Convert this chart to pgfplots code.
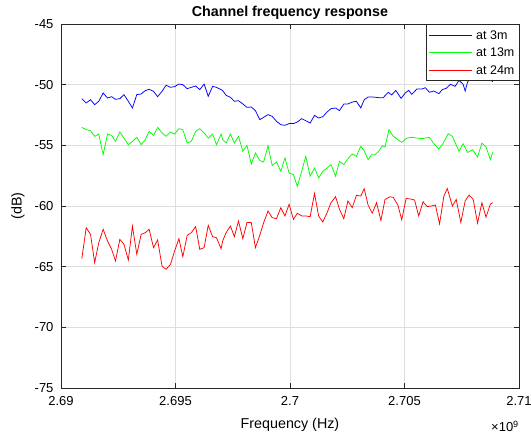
\documentclass[border=0pt]{standalone}
\usepackage{pgfplots}
\usepackage{pgfplotstable}
\pgfplotsset{compat=1.18}
\usepackage{fontspec}
\setmainfont{Liberation Sans}

\definecolor{axgray}{RGB}{38,38,38}
\definecolor{gridgray}{RGB}{222,222,222}

% frequency in MHz, response in dB
\pgfplotstableread{
f y
2690.91 -51.15
2691.10 -51.51
2691.29 -51.24
2691.47 -51.65
2691.65 -51.37
2691.84 -50.69
2692.03 -51.10
2692.21 -50.99
2692.38 -51.21
2692.57 -51.15
2692.75 -50.82
2692.94 -51.37
2693.12 -51.92
2693.31 -50.82
2693.50 -50.77
2693.68 -50.49
2693.85 -50.38
2694.04 -50.55
2694.22 -50.99
2694.41 -50.55
2694.59 -50.05
2694.78 -50.22
2694.96 -50.16
2695.15 -49.95
2695.32 -50.00
2695.51 -50.33
2695.69 -50.22
2695.88 -50.11
2696.06 -50.41
2696.25 -49.95
2696.43 -50.96
2696.62 -50.14
2696.79 -50.22
2696.99 -50.41
2697.06 -50.49
2697.21 -50.88
2697.40 -51.04
2697.57 -51.37
2697.75 -51.32
2697.94 -51.59
2698.12 -51.87
2698.31 -51.84
2698.49 -52.14
2698.68 -52.88
2698.85 -52.69
2699.04 -52.47
2699.22 -52.61
2699.41 -53.02
2699.60 -53.30
2699.78 -53.35
2699.96 -53.21
2700.15 -53.21
2700.32 -53.08
2700.51 -52.80
2700.69 -52.97
2700.88 -53.16
2701.07 -52.53
2701.25 -52.75
2701.43 -52.64
2701.62 -52.25
2701.79 -51.98
2701.99 -51.92
2702.16 -52.14
2702.35 -51.59
2702.53 -51.59
2702.72 -51.43
2702.90 -51.37
2703.09 -51.92
2703.24 -51.24
2703.41 -51.02
2703.63 -51.02
2703.88 -51.07
2704.07 -51.07
2704.29 -50.63
2704.44 -50.85
2704.62 -50.47
2704.85 -51.13
2705.03 -50.69
2705.18 -50.47
2705.32 -50.80
2705.54 -50.36
2705.76 -50.36
2705.91 -50.25
2706.09 -50.63
2706.28 -50.52
2706.50 -50.74
2706.65 -50.41
2706.82 -50.30
2707.01 -49.97
2707.21 -50.14
2707.38 -49.64
2707.56 -49.97
2707.65 -50.52
2707.75 -49.81
2707.90 -49.37
2708.09 -49.59
2708.26 -49.37
2708.44 -49.64
2708.63 -49.42
2708.85 -49.75
}\threem

\pgfplotstableread{
f y
2690.91 -53.52
2691.10 -53.71
2691.29 -53.79
2691.47 -54.26
2691.65 -54.07
2691.84 -55.77
2692.03 -54.07
2692.21 -54.18
2692.38 -54.67
2692.57 -53.90
2692.75 -54.40
2692.94 -54.95
2693.12 -54.67
2693.31 -54.34
2693.50 -54.95
2693.68 -54.53
2693.85 -53.85
2694.04 -54.18
2694.22 -53.52
2694.41 -53.98
2694.59 -54.26
2694.78 -53.90
2694.96 -54.07
2695.15 -53.63
2695.32 -53.71
2695.51 -54.81
2695.69 -54.67
2695.88 -53.85
2696.06 -53.63
2696.25 -53.98
2696.43 -54.40
2696.62 -54.07
2696.79 -54.95
2696.99 -54.07
2697.06 -54.53
2697.21 -54.81
2697.40 -54.07
2697.57 -54.81
2697.75 -54.26
2697.94 -55.49
2698.12 -55.00
2698.31 -56.54
2698.49 -55.63
2698.68 -56.26
2698.85 -56.37
2699.04 -55.03
2699.22 -56.65
2699.41 -56.37
2699.60 -57.14
2699.78 -56.04
2699.96 -57.28
2700.15 -57.42
2700.32 -58.38
2700.51 -57.14
2700.69 -55.91
2700.88 -57.55
2701.07 -56.87
2701.25 -57.69
2701.43 -57.14
2701.62 -56.87
2701.79 -56.59
2701.99 -57.55
2702.16 -56.32
2702.35 -56.59
2702.53 -56.10
2702.72 -55.71
2702.90 -55.91
2703.09 -55.08
2703.24 -55.44
2703.41 -56.18
2703.56 -55.77
2703.71 -55.77
2703.88 -55.49
2704.03 -55.03
2704.15 -55.14
2704.32 -53.71
2704.51 -54.26
2704.71 -54.53
2704.88 -54.75
2705.10 -54.40
2705.32 -54.34
2705.54 -54.40
2705.76 -54.45
2705.91 -54.40
2706.09 -54.34
2706.28 -54.86
2706.50 -55.30
2706.65 -54.95
2706.91 -54.04
2707.09 -54.26
2707.38 -55.49
2707.56 -54.86
2707.75 -55.58
2707.97 -55.36
2708.19 -55.96
2708.38 -54.81
2708.56 -55.14
2708.75 -56.18
2708.85 -55.58
}\thirteenm

\pgfplotstableread{
f y
2690.91 -64.34
2691.10 -61.79
2691.29 -62.34
2691.47 -64.67
2691.65 -63.02
2691.84 -61.92
2692.03 -62.88
2692.21 -63.57
2692.38 -64.53
2692.57 -62.75
2692.75 -63.16
2692.94 -64.45
2693.12 -61.65
2693.31 -63.98
2693.50 -62.34
2693.68 -62.20
2693.85 -61.92
2694.04 -63.43
2694.22 -62.80
2694.41 -64.95
2694.59 -65.22
2694.78 -64.81
2694.96 -63.71
2695.15 -62.69
2695.32 -64.18
2695.51 -62.42
2695.69 -62.20
2695.88 -61.70
2696.06 -63.57
2696.25 -63.43
2696.43 -61.59
2696.62 -62.53
2696.79 -62.61
2696.99 -63.52
2697.06 -62.88
2697.21 -62.20
2697.40 -61.65
2697.57 -62.53
2697.75 -61.24
2697.94 -62.69
2698.12 -61.37
2698.31 -61.37
2698.49 -63.43
2698.68 -62.42
2698.85 -61.37
2699.04 -60.41
2699.22 -60.96
2699.41 -61.04
2699.60 -60.14
2699.78 -60.82
2699.96 -59.86
2700.15 -61.10
2700.32 -60.60
2700.51 -60.82
2700.69 -60.82
2700.88 -60.88
2701.07 -58.96
2701.25 -60.82
2701.43 -61.32
2701.62 -60.55
2701.79 -59.73
2701.99 -59.23
2702.16 -60.27
2702.35 -61.04
2702.53 -59.59
2702.72 -60.14
2702.90 -59.12
2703.09 -59.18
2703.24 -58.57
2703.41 -59.92
2703.59 -60.60
2703.78 -59.73
2703.97 -61.20
2704.15 -59.46
2704.37 -59.24
2704.51 -59.29
2704.71 -59.92
2704.88 -61.14
2705.07 -59.38
2705.29 -59.43
2705.44 -59.51
2705.62 -60.82
2705.81 -59.65
2705.99 -60.05
2706.18 -60.00
2706.35 -59.92
2706.53 -61.47
2706.72 -59.18
2706.87 -58.56
2707.09 -60.00
2707.26 -59.46
2707.46 -61.36
2707.65 -59.57
2707.82 -59.10
2708.00 -59.46
2708.19 -61.41
2708.38 -59.73
2708.56 -60.92
2708.75 -59.84
2708.85 -59.73
}\twentyfourm

\begin{document}
\begin{tikzpicture}
\begin{axis}[
    scale only axis,
    width=458pt, height=364pt,
    xmin=2690, xmax=2710,
    ymin=-75, ymax=-45,
    clip=false,
    xtick={2690,2695,2700,2705,2710},
    xticklabels={2.69,2.695,2.7,2.705,2.71},
    ytick={-75,-70,-65,-60,-55,-50,-45},
    yticklabels={-75,-70,-65,-60,-55,-50,-45},
    tick align=inside,
    major tick length=5pt,
    grid=major,
    grid style={gridgray, line width=0.6pt},
    axis line style={axgray, line width=0.6pt},
    tick style={axgray, line width=0.6pt},
    ticklabel style={font=\fontsize{13}{15}\selectfont},
    xticklabel style={yshift=-5pt},
    yticklabel style={xshift=-4pt},
    xlabel={Frequency (Hz)},
    ylabel={(dB)},
    label style={font=\fontsize{14.3}{16}\selectfont},
    xlabel style={at={(axis description cs:0.5,0)}, anchor=center, yshift=-37pt},
    ylabel style={at={(axis description cs:-0.094,0.5)}, anchor=center},
    title={Channel frequency response},
    title style={font=\bfseries\fontsize{14.3}{16}\selectfont, at={(axis description cs:0.5,1)}, anchor=center, yshift=5pt},
    every axis plot/.append style={line width=0.75pt},
]
\addplot[blue] table[x=f, y=y] {\threem};
\addplot[green] table[x=f, y=y] {\thirteenm};
\addplot[red] table[x=f, y=y] {\twentyfourm};

% legend, in the top right corner of the axis box
\draw[axgray, line width=0.6pt, fill=white]
    (rel axis cs:1,1) rectangle ([xshift=-93pt, yshift=-56pt]rel axis cs:1,1);
\draw[blue, line width=0.75pt] ([xshift=-90pt, yshift=-11pt]rel axis cs:1,1) -- ++(43pt,0pt);
\draw[green, line width=0.75pt] ([xshift=-90pt, yshift=-28.5pt]rel axis cs:1,1) -- ++(43pt,0pt);
\draw[red, line width=0.75pt] ([xshift=-90pt, yshift=-46pt]rel axis cs:1,1) -- ++(43pt,0pt);
\node[anchor=west, inner sep=0pt, font=\fontsize{12.5}{14}\selectfont]
    at ([xshift=-43pt, yshift=-11pt]rel axis cs:1,1) {at 3m};
\node[anchor=west, inner sep=0pt, font=\fontsize{12.5}{14}\selectfont]
    at ([xshift=-43pt, yshift=-28.5pt]rel axis cs:1,1) {at 13m};
\node[anchor=west, inner sep=0pt, font=\fontsize{12.5}{14}\selectfont]
    at ([xshift=-43pt, yshift=-46pt]rel axis cs:1,1) {at 24m};
\end{axis}
\node[anchor=north east, font=\fontsize{13}{15}\selectfont, inner sep=0pt]
    at ([yshift=-33pt]current axis.south east) {×10\textsuperscript{9}};
\path (current axis.south west) ++(-61pt,-49pt) coordinate (bba);
\path (current axis.north east) ++(12pt,24pt) coordinate (bbb);
\pgfresetboundingbox
\path[use as bounding box] (bba) rectangle (bbb);
\end{tikzpicture}
\end{document}
